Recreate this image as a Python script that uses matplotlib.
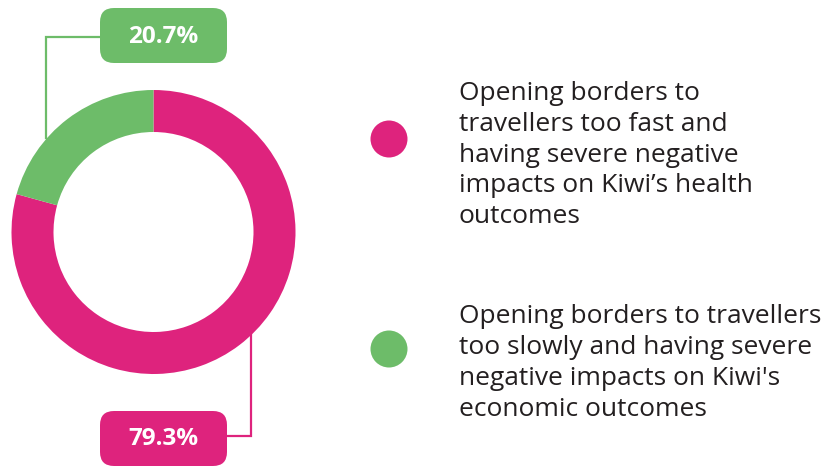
import matplotlib
matplotlib.use("Agg")
import matplotlib.pyplot as plt
from matplotlib.patches import FancyBboxPatch, Circle

# Survey shares
categories = [
    "Opening borders to\ntravellers too fast and\nhaving severe negative\nimpacts on Kiwi\u2019s health\noutcomes",
    "Opening borders to travellers\ntoo slowly and having severe\nnegative impacts on Kiwi's\neconomic outcomes",
]
shares = [79.3, 20.7]
colors = ["#DE237D", "#6DBC69"]
value_labels = [f"{v:.1f}%" for v in shares]

W, H = 829, 466
fig = plt.figure(figsize=(W / 100, H / 100), dpi=100)
ax = fig.add_axes([0, 0, 1, 1])

def Y(y):
    return H - y

# Donut
cx, cy, r = 153.5, Y(232), 142
ax.pie(shares, colors=colors, startangle=90, counterclock=False,
       center=(cx, cy), radius=r, frame=True,
       wedgeprops=dict(width=42, linewidth=0))
ax.set_xlim(0, W)
ax.set_ylim(0, H)
ax.set_aspect("equal")
ax.axis("off")

label_font = dict(family=["Open Sans", "DejaVu Sans"], fontsize=17.5, fontweight="bold",
                  color="white", ha="center", va="center")

# Green callout (top)
ax.plot([46, 46, 100], [Y(138), Y(37), Y(37)], color=colors[1], lw=1.6,
        solid_joinstyle="miter", zorder=1)
ax.add_patch(FancyBboxPatch((100 + 14, Y(63) + 14), 127 - 28, 55 - 28,
                            boxstyle="round,pad=14", fc=colors[1], ec="none", zorder=2))
ax.text(163.5, Y(37), value_labels[1], zorder=3, **label_font)

# Pink callout (bottom)
ax.plot([251, 251, 227], [Y(335), Y(436), Y(436)], color=colors[0], lw=1.6,
        solid_joinstyle="miter", zorder=1)
ax.add_patch(FancyBboxPatch((100 + 14, Y(466) + 14), 127 - 28, 55 - 28,
                            boxstyle="round,pad=14", fc=colors[0], ec="none", zorder=2))
ax.text(163.5, Y(439), value_labels[0], zorder=3, **label_font)

# Legend
legend_font = dict(family=["Open Sans", "DejaVu Sans"], fontsize=19, color="#231F20",
                   ha="left", va="center", linespacing=1.31)
for (dy, ty), label, c in zip([(139, 155), (349, 363)], categories, colors):
    ax.add_patch(Circle((389, Y(dy)), 18.5, fc=c, ec="none"))
    ax.text(459, Y(ty), label, **legend_font)

fig.savefig("out.png", dpi=100)
